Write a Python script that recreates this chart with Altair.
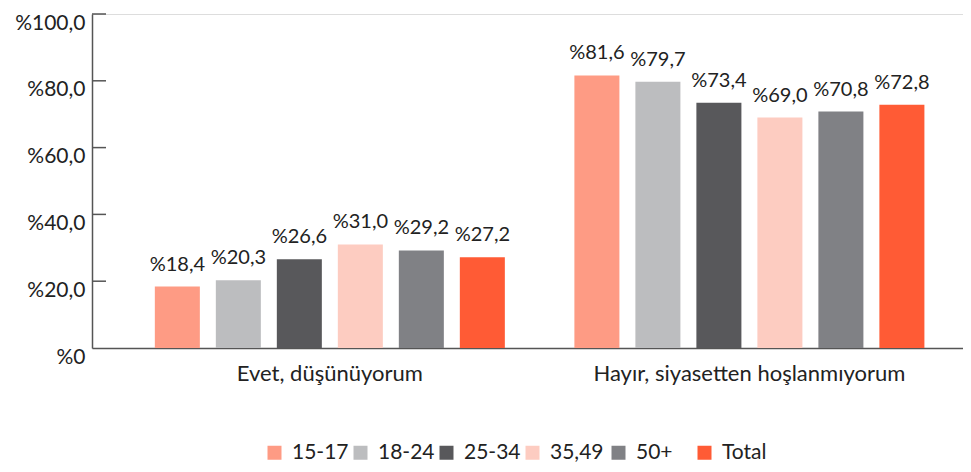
import altair as alt
import pandas as pd

answers = ["Evet, düşünüyorum", "Hayır, siyasetten hoşlanmıyorum"]
groups = ["15-17", "18-24", "25-34", "35,49", "50+", "Total"]
evet = [18.4, 20.3, 26.6, 31.0, 29.2, 27.2]
hayir = [81.6, 79.7, 73.4, 69.0, 70.8, 72.8]
colors = ["#FE9B84", "#BCBDBF", "#58585B", "#FDCCC1", "#808185", "#FF5B35"]
y_ticks = [20, 40, 60, 80, 100]

rows = []
for a, vals in zip(answers, [evet, hayir]):
    for g, v in zip(groups, vals):
        rows.append({"answer": a, "group": g, "value": v})
df = pd.DataFrame(rows)

FONT = "Lato"
TXT = "#222222"
AX = "#555555"

x_enc = alt.X("answer:N", sort=answers,
              scale=alt.Scale(paddingInner=0, paddingOuter=0.038, align=0.88),
              axis=alt.Axis(title=None, labelAngle=0, ticks=False, domainColor=AX,
                            domainWidth=1.5, labelFontSize=22, labelFont=FONT,
                            labelColor=TXT, labelPadding=15, labelLimit=0))
xoff = alt.XOffset("group:N", sort=groups,
                   scale=alt.Scale(paddingInner=0.262, paddingOuter=0.57))
y_scale = alt.Scale(domain=[0, 100], nice=False)

bars = alt.Chart(df).mark_bar().encode(
    x=x_enc,
    xOffset=xoff,
    y=alt.Y("value:Q", scale=y_scale,
            axis=alt.Axis(title=None, values=[0, 20, 40, 60, 80, 100], ticks=False,
                          grid=False, domainColor=AX, domainWidth=1.5,
                          labelFontSize=21, labelFont=FONT, labelColor=TXT,
                          labelPadding=7, labelBaseline="middle", labelOffset=9,
                          labelExpr="datum.value == 0 ? '%0' : '%' + replace(format(datum.value, '.1f'), '.', ',')")),
    color=alt.Color("group:N", sort=groups,
                    scale=alt.Scale(domain=groups, range=colors),
                    legend=alt.Legend(title=None, orient="none", legendX=172, legendY=428,
                                      direction="horizontal", columns=6, gridAlign="all",
                                      symbolType="square", symbolSize=196, symbolStrokeWidth=0,
                                      labelFontSize=21, labelFont=FONT, labelColor=TXT,
                                      labelOffset=7, columnPadding=1, padding=0)),
)

labels = alt.Chart(df).transform_calculate(
    lab="'%' + replace(format(datum.value, '.1f'), '.', ',')"
).mark_text(baseline="alphabetic", dy=-16, fontSize=20, font=FONT, color=TXT).encode(
    x=alt.X("answer:N", sort=answers),
    xOffset=alt.XOffset("group:N", sort=groups),
    y=alt.Y("value:Q"),
    text="lab:N",
)

ticks = alt.Chart(pd.DataFrame({"t": y_ticks})).mark_rule(color=AX, strokeWidth=1.5).encode(
    y=alt.Y("t:Q"),
    x=alt.value(0),
    x2=alt.value(14),
)

chart = alt.layer(bars, labels, ticks).properties(
    width=871, height=334,
    autosize=alt.AutoSizeParams(type="none"),
    padding={"left": 84, "top": 6, "right": 0, "bottom": 122},
).configure_view(stroke=None).configure(font=FONT)

chart.save("out.html", embed_options={"renderer": "svg", "actions": False})
